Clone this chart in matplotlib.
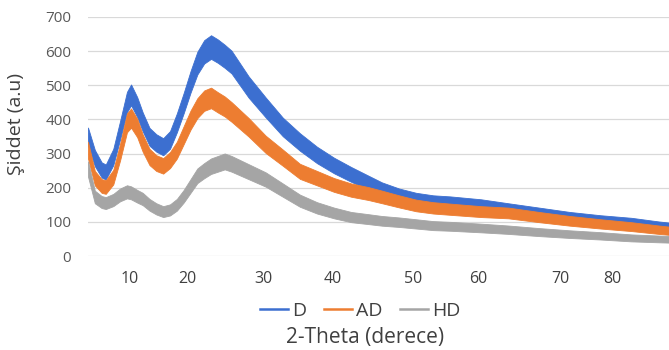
import numpy as np
import matplotlib.pyplot as plt

# 2-theta positions and band centres
theta = [5, 6, 7, 7.6, 8.7, 9.7, 10.7, 11.3, 12.2, 13, 14, 15, 16, 17, 18, 19, 20, 21,
         22, 23, 24, 25, 26, 28.5, 31, 33.5, 36, 38.5, 41, 43.5, 46, 48, 50.5, 53,
         55.5, 58, 62.5, 66.5, 71, 75.5, 80, 84.5, 88.5, 90]

d = [350, 287, 252, 246, 290, 369, 451, 472, 436, 393, 349, 331, 320, 340, 390, 448,
     510, 565, 598, 612, 600, 585, 568, 495, 435, 378, 334, 296, 265, 239, 215, 196,
     179, 167, 160, 157, 149, 138, 126, 114, 105, 98, 88, 85]

ad = [310, 228, 205, 202, 231, 305, 390, 404, 375, 331, 290, 272, 264, 281, 310, 354,
      398, 433, 455, 463, 450, 438, 422, 377, 327, 288, 248, 228, 208, 193, 183, 173,
      160, 148, 141, 137, 130, 126, 114, 103, 94, 86, 77, 74]

hd = [255, 173, 158, 155, 164, 179, 188, 185, 175, 167, 150, 138, 130, 135, 150, 175,
      205, 235, 250, 263, 270, 277, 270, 247, 224, 193, 162, 141, 126, 114, 108, 103,
      99, 94, 89, 87, 82, 77, 70, 64, 59, 53, 50, 49]

tick_pos = [11.1, 19.6, 30.6, 40.8, 52.5, 62.1, 74.1, 81.7]
tick_labels = ["10", "20", "30", "40", "50", "60", "70", "80"]

series = [("D", d, "#3C6FD0"), ("AD", ad, "#ED7D31"), ("HD", hd, "#A5A5A5")]

plt.rcParams['font.family'] = ['Open Sans', 'DejaVu Sans']

fig = plt.figure(figsize=(6.69, 3.5), dpi=100)
ax = fig.add_axes([88/669, 1-256/350, 1-88/669, (256-17)/350])

x = np.array(theta)
for name, vals, col in series:
    y = np.array(vals, dtype=float)
    spread = 1.4*np.sqrt(y)   # width of the noisy band
    ax.fill_between(x, y-spread, y+spread, color=col, lw=0.6, edgecolor=col)
    ax.plot([], [], color=col, lw=1.8, label=name)

ax.set_xlim(5, 90)
ax.set_ylim(0, 700)
ax.set_yticks(range(0, 701, 100))
ax.grid(axis='y', color='#d9d9d9', lw=0.9)
ax.set_axisbelow(True)
for s in ax.spines.values():
    s.set_visible(False)
ax.tick_params(axis='y', length=0, pad=12, labelsize=11, labelcolor='#595959')
ax.set_xticks(tick_pos, tick_labels)
ax.tick_params(axis='x', length=0, pad=11, labelsize=11.5, labelcolor='#404040')

fig.text(16/669, 1-124/350, "Şiddet (a.u)", rotation=90, ha='center', va='center',
         fontsize=14, color='#404040')

fig.legend(loc='center', bbox_to_anchor=(360/669, 1-311/350), ncol=3, frameon=False,
           fontsize=14, handlelength=1.45, columnspacing=0.9, handletextpad=0.2,
           labelcolor='#404040')
fig.text(365/669, 1-337/350, "2-Theta (derece)", ha='center', va='center',
         fontsize=15, color='#404040')

fig.savefig("out.png", dpi=100)
